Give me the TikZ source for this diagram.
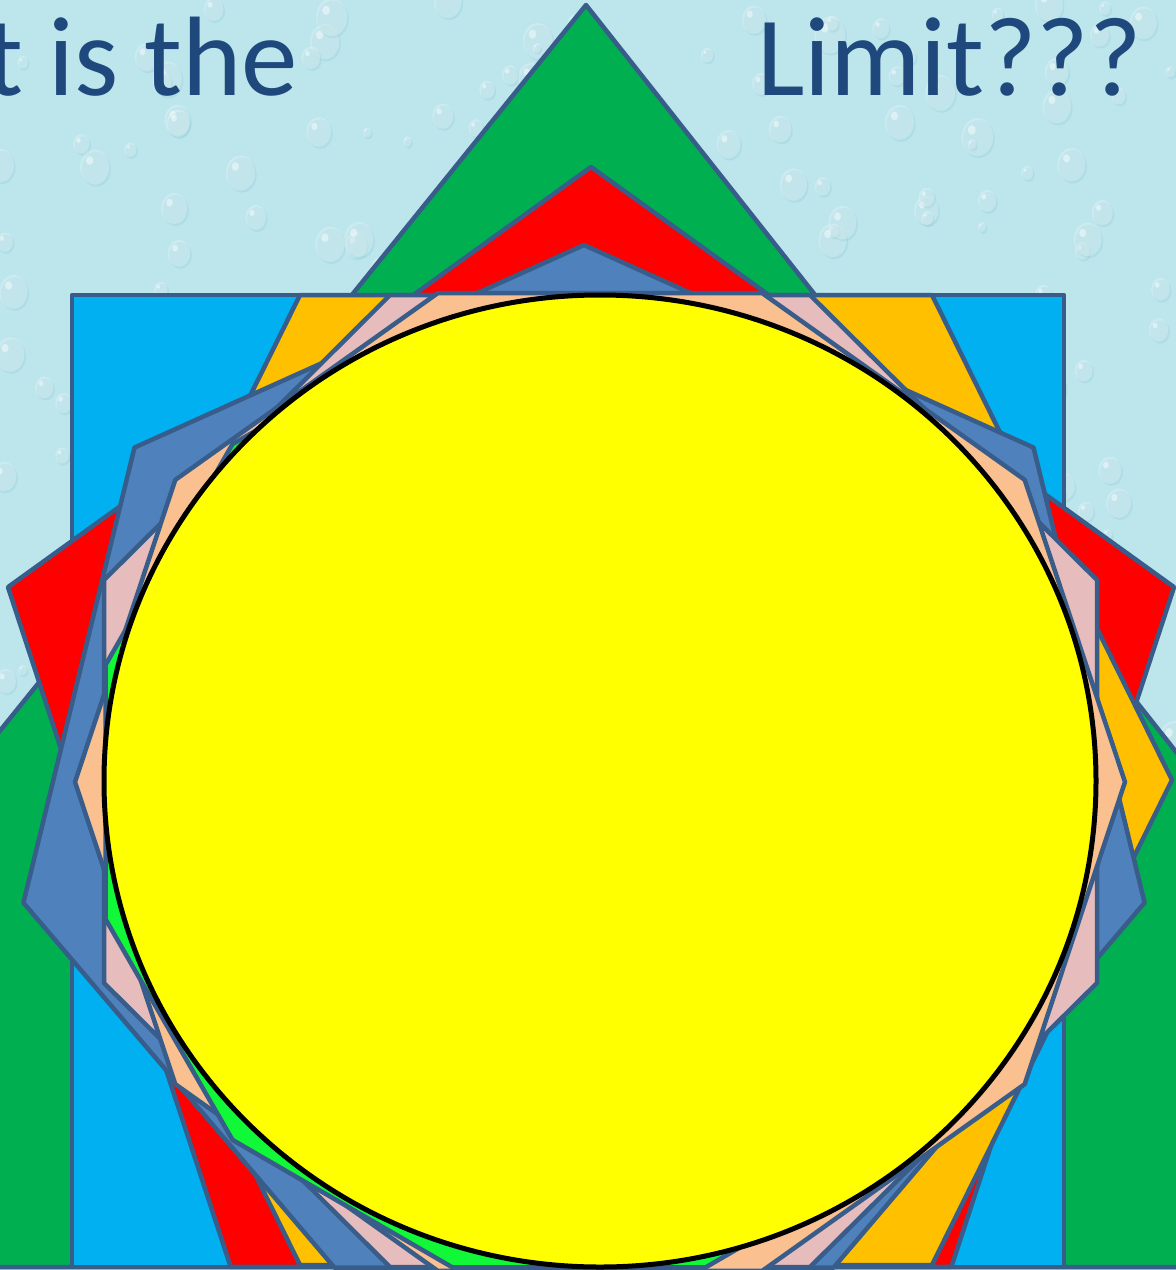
\documentclass[tikz,border=0pt]{standalone}
\usepackage{fontspec}
\setmainfont{Carlito}
\definecolor{titleblue}{HTML}{1F497D}
\definecolor{outl}{HTML}{385D8A}
\definecolor{trigreen}{HTML}{00B050}
\definecolor{sqblue}{HTML}{00B0F0}
\definecolor{pentred}{HTML}{FF0000}
\definecolor{hexorange}{HTML}{FFC000}
\definecolor{heptblue}{HTML}{4F81BD}
\definecolor{octpink}{HTML}{E6BCBC}
\definecolor{decpeach}{HTML}{FAC090}
\definecolor{dodgreen}{HTML}{10F838}
\definecolor{circyellow}{HTML}{FFFF00}
\definecolor{bgcyan}{HTML}{BCE5EC}
\definecolor{bgdark}{HTML}{8CCAD6}
\begin{document}
\begin{tikzpicture}[x=1pt,y=-1pt,
  polyshape/.style={draw=outl, line width=4.5pt, line join=round},
  titletext/.style={text=titleblue, font=\fontsize{113}{120}\selectfont, anchor=base west, inner sep=0pt}]
\useasboundingbox (0,0) rectangle (1176,1270);
\clip (0,0) rectangle (1176,1270);
% background with water drops
\fill[bgcyan] (0,0) rectangle (1176,1270);
\pgfmathsetseed{7}
\foreach \i in {1,...,420}{
  \pgfmathsetmacro{\dx}{rnd*1176}
  \pgfmathsetmacro{\dy}{rnd*1270}
  \pgfmathsetmacro{\dr}{4+rnd*12}
  \fill[bgdark, opacity=0.28] (\dx+1.5,\dy+2) ellipse[x radius=\dr, y radius=1.2*\dr];
  \fill[white, opacity=0.25] (\dx,\dy) ellipse[x radius=\dr, y radius=1.2*\dr];
  \fill[white, opacity=0.45] (\dx-0.35*\dr,\dy-0.45*\dr) ellipse[x radius=0.25*\dr, y radius=0.3*\dr];
}
% title
\node[titletext] (lefttitle) at (-15,95) {t is the};
\node[titletext] (righttitle) at (757,95) {Limit???};
% triangle
\path[polyshape, fill=trigreen] (586,5) -- (1583,1267) -- (-433,1267) -- cycle;
% square
\path[polyshape, fill=sqblue] (72,295) rectangle (1064,1267);
% pentagon
\path[polyshape, fill=pentred] plot[samples at={90,162,...,378}] ({591+613*cos(\x)},{775-608*sin(\x)}) -- cycle;
% hexagon
\path[polyshape, fill=hexorange] (60,780) -- (300,295) -- (932,295) -- (1172,780) -- (932,1265) -- (300,1265) -- cycle;
% heptagon
\path[polyshape, fill=heptblue] plot[samples at={90,141.4286,...,450}] ({584+575*cos(\x)},{783-538*sin(\x)}) -- cycle;
% octagon
\path[polyshape, fill=octpink] (390,295) -- (810,295) -- (1097,580) -- (1097,983) -- (810,1267) -- (390,1267) -- (104,983) -- (104,580) -- cycle;
% decagon
\path[polyshape, fill=decpeach] plot[samples at={0,36,...,324}] ({600+525*cos(\x)},{782-514*sin(\x)}) -- cycle;
% dodecagon
\path[polyshape, fill=dodgreen] plot[samples at={15,45,...,345}] ({579+490*cos(\x)},{792-492*sin(\x)}) -- cycle;
% circle
\path[draw=black, line width=5pt, fill=circyellow] (600,781) ellipse[x radius=496, y radius=486];
\end{tikzpicture}
\end{document}
